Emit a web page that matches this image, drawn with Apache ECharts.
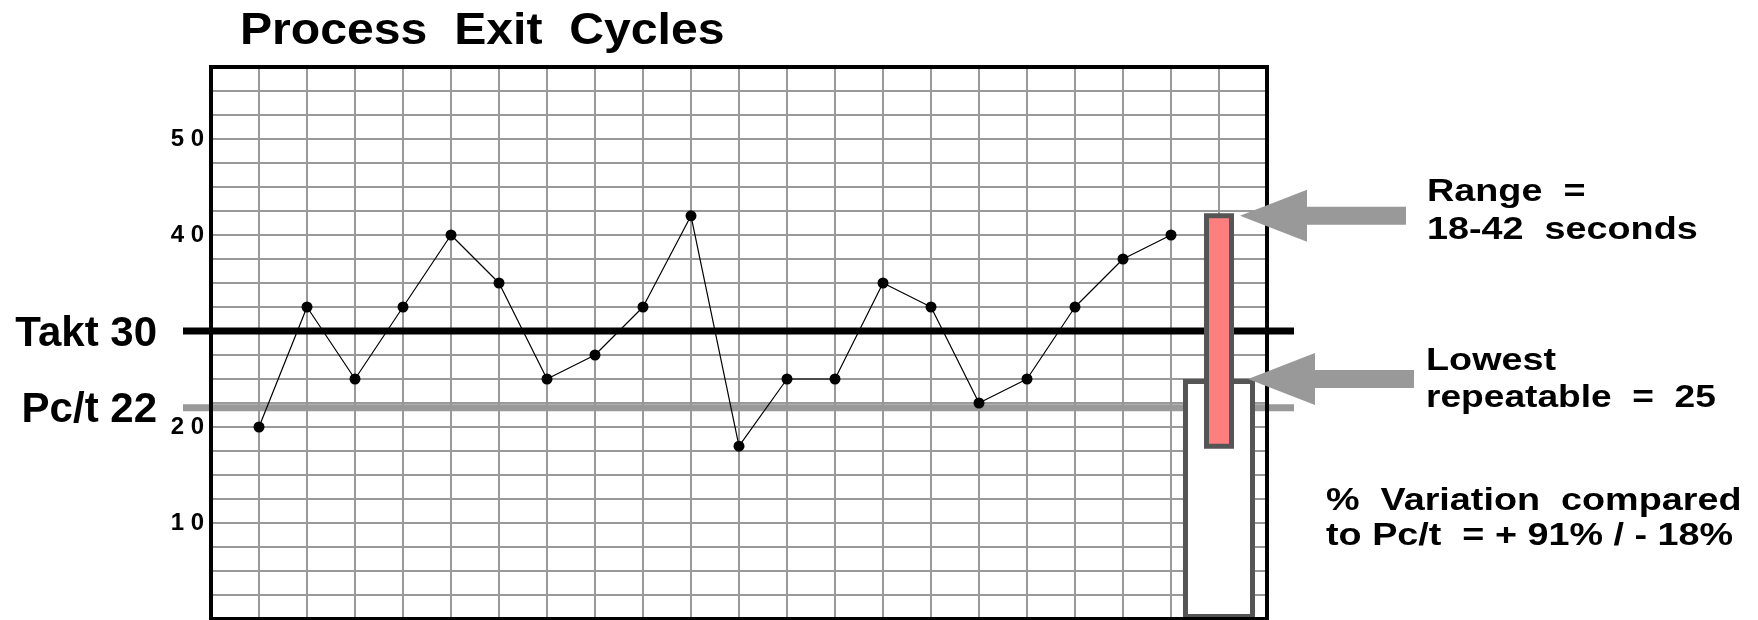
<!DOCTYPE html>
<html>
<head>
<meta charset="utf-8">
<title>Process Exit Cycles</title>
<script src="https://cdn.jsdelivr.net/npm/echarts@6/dist/echarts.min.js"></script>
<style>
  html, body { margin: 0; padding: 0; background: #fff; }
  #chart { width: 1758px; height: 620px; }
</style>
</head>
<body>
<div id="chart"></div>
<script>
// Exit cycle time of each observed cycle, in seconds
const cycleTimes = [20, 32.5, 25, 32.5, 40, 35, 25, 27.5, 32.5, 42, 18, 25, 25, 35, 32.5, 22.5, 25, 32.5, 37.5, 40];
// Reference levels
const taktTime = 30;
const pctTime = 22;
// Summary column: observed range and lowest repeatable time
const rangeLow = 18;
const rangeHigh = 42;
const lowestRepeatable = 25;
// Labelled values on the vertical scale
const yTickLabels = [10, 20, 40, 50];

const summaryColumn = cycleTimes.length + 1;
const FONT = "'Liberation Sans', Arial, Helvetica, sans-serif";

const chart = echarts.init(document.getElementById('chart'), null, { renderer: 'canvas' });

const plot = { left: 211, top: 67, width: 1056, height: 552 };
const refLines = { left: 183, width: 1111 };
const yMax = 57.5;
const yStep = 2.5;
const xMax = summaryColumn + 1;

chart.setOption({
  animation: false,
  backgroundColor: '#fff',
  grid: [
    // plotting area; its border is the heavy frame, drawn above the series
    { left: plot.left, top: plot.top, width: plot.width, height: plot.height,
      show: true, z: 10, backgroundColor: 'transparent', borderColor: '#000', borderWidth: 4 },
    // wider area for the takt / Pc/t reference lines that run past the frame
    { left: refLines.left, top: plot.top, width: refLines.width, height: plot.height }
  ],
  xAxis: [
    { gridIndex: 0, type: 'value', min: 0, max: xMax, interval: 1,
      axisLine: { show: false }, axisTick: { show: false }, axisLabel: { show: false },
      splitLine: { show: true, lineStyle: { color: '#999', width: 2 } } },
    { gridIndex: 1, type: 'value', min: 0, max: 1, show: false }
  ],
  yAxis: [
    { gridIndex: 0, type: 'value', min: 0, max: yMax, interval: yStep,
      axisLine: { show: false }, axisTick: { show: false },
      axisLabel: {
        margin: 7, color: '#000', fontFamily: FONT, fontWeight: 'bold', fontSize: 24,
        formatter: v => yTickLabels.includes(v) ? String(v).split('').join(' ') : ''
      },
      splitLine: { show: true, lineStyle: { color: '#999', width: 2 } } },
    { gridIndex: 1, type: 'value', min: 0, max: yMax, show: false }
  ],
  series: [
    { name: 'Takt', type: 'line', xAxisIndex: 1, yAxisIndex: 1, z: 2, silent: true,
      symbol: 'none', data: [[0, taktTime], [1, taktTime]],
      lineStyle: { color: '#000', width: 7 } },
    { name: 'Pc/t', type: 'line', xAxisIndex: 1, yAxisIndex: 1, z: 2, silent: true,
      symbol: 'none', data: [[0, pctTime], [1, pctTime]],
      lineStyle: { color: '#999', width: 7 } },
    { name: 'Exit cycle', type: 'line', xAxisIndex: 0, yAxisIndex: 0, z: 3,
      data: cycleTimes.map((v, i) => [i + 1, v]),
      symbol: 'circle', symbolSize: 11,
      itemStyle: { color: '#000' },
      lineStyle: { color: '#000', width: 1.2 } },
    { name: 'Lowest repeatable', type: 'bar', xAxisIndex: 0, yAxisIndex: 0, z: 4,
      barWidth: 72, data: [[summaryColumn, lowestRepeatable]],
      itemStyle: { color: '#fff', borderColor: '#555', borderWidth: 5 } },
    { name: 'Range', type: 'custom', xAxisIndex: 0, yAxisIndex: 0, z: 5,
      data: [[summaryColumn, rangeLow, rangeHigh]],
      encode: { x: 0, y: [1, 2] },
      renderItem: (params, api) => {
        const lo = api.coord([api.value(0), api.value(1)]);
        const hi = api.coord([api.value(0), api.value(2)]);
        const w = 25;
        return {
          type: 'rect',
          shape: { x: hi[0] - w / 2, y: hi[1], width: w, height: lo[1] - hi[1] },
          style: { fill: '#ff7f7f', stroke: '#555', lineWidth: 5 }
        };
      } }
  ]
});

// Annotations placed from the chart's own scales
const toPx = (x, y) => chart.convertToPixel({ gridIndex: 0 }, [x, y]);
const toRefPx = (x, y) => chart.convertToPixel({ gridIndex: 1 }, [x, y]);

function arrow(tipX, tipY) {
  const headLen = 67, headHalf = 26, shaftHalf = 9, len = 166;
  return {
    type: 'polygon', z: 20, silent: true,
    shape: { points: [
      [tipX, tipY],
      [tipX + headLen, tipY - headHalf],
      [tipX + headLen, tipY - shaftHalf],
      [tipX + len, tipY - shaftHalf],
      [tipX + len, tipY + shaftHalf],
      [tipX + headLen, tipY + shaftHalf],
      [tipX + headLen, tipY + headHalf]
    ] },
    style: { fill: '#999' }
  };
}

function label(text, x, y, size, stretch, align) {
  return {
    type: 'text', z: 20, silent: true, x: x, y: y, scaleX: stretch || 1,
    style: { text: text, x: 0, y: 0, fill: '#000', fontFamily: FONT, fontWeight: 'bold',
             fontSize: size, align: align || 'left', verticalAlign: 'middle' }
  };
}

const rangeTop = toPx(summaryColumn, rangeHigh);
const lowTop = toPx(summaryColumn, lowestRepeatable);
const taktStart = toRefPx(0, taktTime);
const pctStart = toRefPx(0, pctTime);

const NOTE = 32, NOTE_STRETCH = 1.18;

chart.setOption({
  graphic: [
    label('Process  Exit  Cycles', 240, 32, 45, 1.07),
    label('Takt 30', taktStart[0] - 26, taktStart[1] + 3, 42, 1, 'right'),
    label('Pc/t 22', pctStart[0] - 26, pctStart[1] + 3, 42, 1, 'right'),
    arrow(rangeTop[0] + 21, rangeTop[1]),
    arrow(lowTop[0] + 29, lowTop[1]),
    label('Range  =', 1427, 192, NOTE, NOTE_STRETCH),
    label('18-42  seconds', 1427, 230.5, NOTE, NOTE_STRETCH),
    label('Lowest', 1426, 361, NOTE, NOTE_STRETCH),
    label('repeatable  =  25', 1426, 398.5, NOTE, 1.16),
    label('%  Variation  compared', 1326, 501, NOTE, NOTE_STRETCH),
    label('to Pc/t  = + 91% / - 18%', 1326, 536, NOTE, NOTE_STRETCH)
  ]
});
</script>
</body>
</html>
